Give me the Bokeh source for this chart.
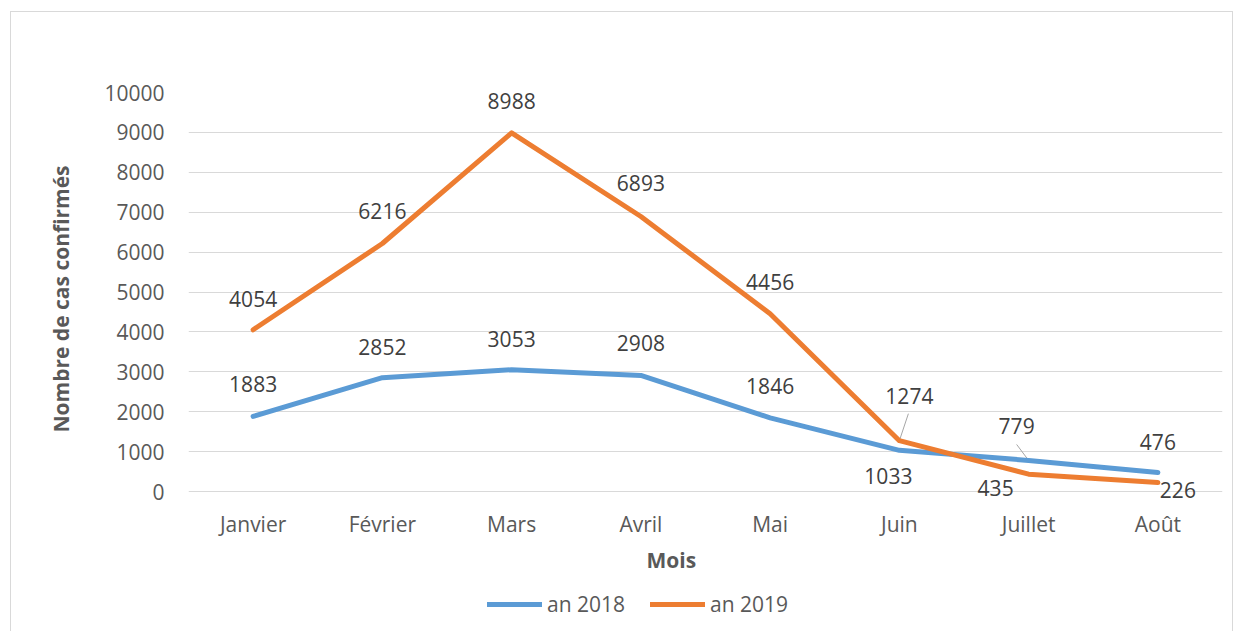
from bokeh.plotting import figure
from bokeh.layouts import column
from bokeh.models import Range1d, FixedTicker, Legend, LegendItem, ColumnDataSource, Title
from bokeh.core.properties import value
from bokeh.embed import file_html
from bokeh.resources import INLINE

# ---------------- data ----------------
months = ["Janvier", "Février", "Mars", "Avril", "Mai", "Juin", "Juillet", "Août"]
cases_2018 = [1883, 2852, 3053, 2908, 1846, 1033, 779, 476]
cases_2019 = [4054, 6216, 8988, 6893, 4456, 1274, 435, 226]
series_names = ["an 2018", "an 2019"]
y_ticks = [0, 1000, 2000, 3000, 4000, 5000, 6000, 7000, 8000, 9000, 10000]
x_title = "Mois"
y_title = "Nombre de cas confirmés"

# ---------------- styling ----------------
BLUE = "#5B9BD5"
ORANGE = "#ED7D31"
GRID = "#D9D9D9"
TICK_COL = "#595959"
LABEL_COL = "#404040"
FONT = "Open Sans"
FS = "21px"
BORDER = "1px solid #D9D9D9"

# data-label offsets in screen px (dx right, dy down)
off_2018 = [(0, -32), (0, -31), (0, -31), (0, -32), (0, -32), (-11, 26), (-12, -34), (0, -31)]
off_2019 = [(0, -31), (0, -32), (0, -32), (0, -33), (0, -32), (10, -45), (-33, 14), (20, 7)]

W, H = 1223, 572
ML, MR, MT, MB = 177, 12, 80, 79
Y0 = -350
frame_w = W - ML - MR
frame_h = H - MT - MB
px_x = frame_w / len(months)
px_y = frame_h / (y_ticks[-1] - Y0)

xs = list(range(len(months)))

p = figure(width=W, height=H, output_backend="svg", toolbar_location=None,
           x_range=Range1d(-0.5, len(months) - 0.5), y_range=Range1d(Y0, y_ticks[-1]),
           min_border_left=ML, min_border_right=MR, min_border_top=MT, min_border_bottom=MB)
p.margin = (11, 0, 0, 10)
p.styles = {"border-top": BORDER, "border-left": BORDER, "border-right": BORDER}
p.outline_line_color = None
p.background_fill_color = "white"
p.border_fill_color = "white"

p.xgrid.visible = False
p.ygrid.grid_line_color = GRID
p.ygrid.grid_line_width = 1

p.yaxis.ticker = FixedTicker(ticks=y_ticks)
p.xaxis.ticker = FixedTicker(ticks=xs)
p.xaxis.major_label_overrides = {i: m for i, m in enumerate(months)}
for ax in (p.xaxis[0], p.yaxis[0]):
    ax.axis_line_color = None
    ax.major_tick_line_color = None
    ax.minor_tick_line_color = None
    ax.major_tick_out = 0
    ax.major_tick_in = 0
    ax.major_label_text_font = FONT
    ax.major_label_text_font_size = FS
    ax.major_label_text_color = TICK_COL
p.yaxis.major_label_standoff = 24
p.xaxis.major_label_standoff = 4

p.yaxis.axis_label = y_title
p.yaxis.axis_label_text_font = FONT
p.yaxis.axis_label_text_font_size = FS
p.yaxis.axis_label_text_font_style = "bold"
p.yaxis.axis_label_text_color = TICK_COL
p.yaxis.axis_label_standoff = 26

# leader lines (drawn under series)
p.segment(x0=[xs[5], xs[6]],
          y0=[cases_2019[5], cases_2018[6]],
          x1=[xs[5] + 9 / px_x, xs[6] - 12 / px_x],
          y1=[cases_2019[5] + 27 / px_y, cases_2018[6] + 16 / px_y],
          line_color="#A6A6A6", line_width=1)

r18 = p.line(xs, cases_2018, line_color=BLUE, line_width=5, line_cap="round", line_join="round")
r19 = p.line(xs, cases_2019, line_color=ORANGE, line_width=5, line_cap="round", line_join="round")

for vals, offs in ((cases_2018, off_2018), (cases_2019, off_2019)):
    src = ColumnDataSource(dict(x=xs, y=vals, t=[str(v) for v in vals],
                                dx=[o[0] for o in offs], dy=[o[1] for o in offs]))
    p.text(x="x", y="y", text="t", x_offset="dx", y_offset="dy", source=src,
           text_font=value(FONT), text_font_size=FS, text_color=LABEL_COL,
           text_align="center", text_baseline="middle")

mois = Title(text=x_title, align="left", offset=671 - 188 - 25, standoff=6,
             text_font=FONT, text_font_size=FS, text_font_style="bold",
             text_color=TICK_COL)
p.add_layout(mois, "below")

# ---------------- legend strip ----------------
LH = 48
lf = figure(width=W, height=LH, output_backend="svg", toolbar_location=None,
            x_range=Range1d(0, 1), y_range=Range1d(0, 1),
            x_axis_location=None, y_axis_location=None,
            min_border_left=0, min_border_right=0, min_border_top=0, min_border_bottom=0)
lf.margin = (0, 0, 0, 10)
lf.styles = {"border-left": BORDER, "border-right": BORDER}
lf.outline_line_color = None
lf.grid.visible = False
# legend proxies (kept outside the visible range of this strip)
l18 = lf.line([5, 6], [5, 5], line_color=BLUE, line_width=5, line_cap="round")
l19 = lf.line([5, 6], [5, 5], line_color=ORANGE, line_width=5, line_cap="round")
legend = Legend(items=[LegendItem(label=series_names[0], renderers=[l18]),
                       LegendItem(label=series_names[1], renderers=[l19])],
                orientation="horizontal", location=(487 - 188, 13),
                glyph_width=55, glyph_height=20, label_standoff=5, spacing=25,
                padding=0, margin=0, border_line_color=None, background_fill_alpha=0,
                label_text_font=FONT, label_text_font_size=FS, label_text_color=TICK_COL)
lf.add_layout(legend, "center")

layout = column(p, lf, spacing=0)
open("out.html", "w").write(file_html(layout, INLINE))
